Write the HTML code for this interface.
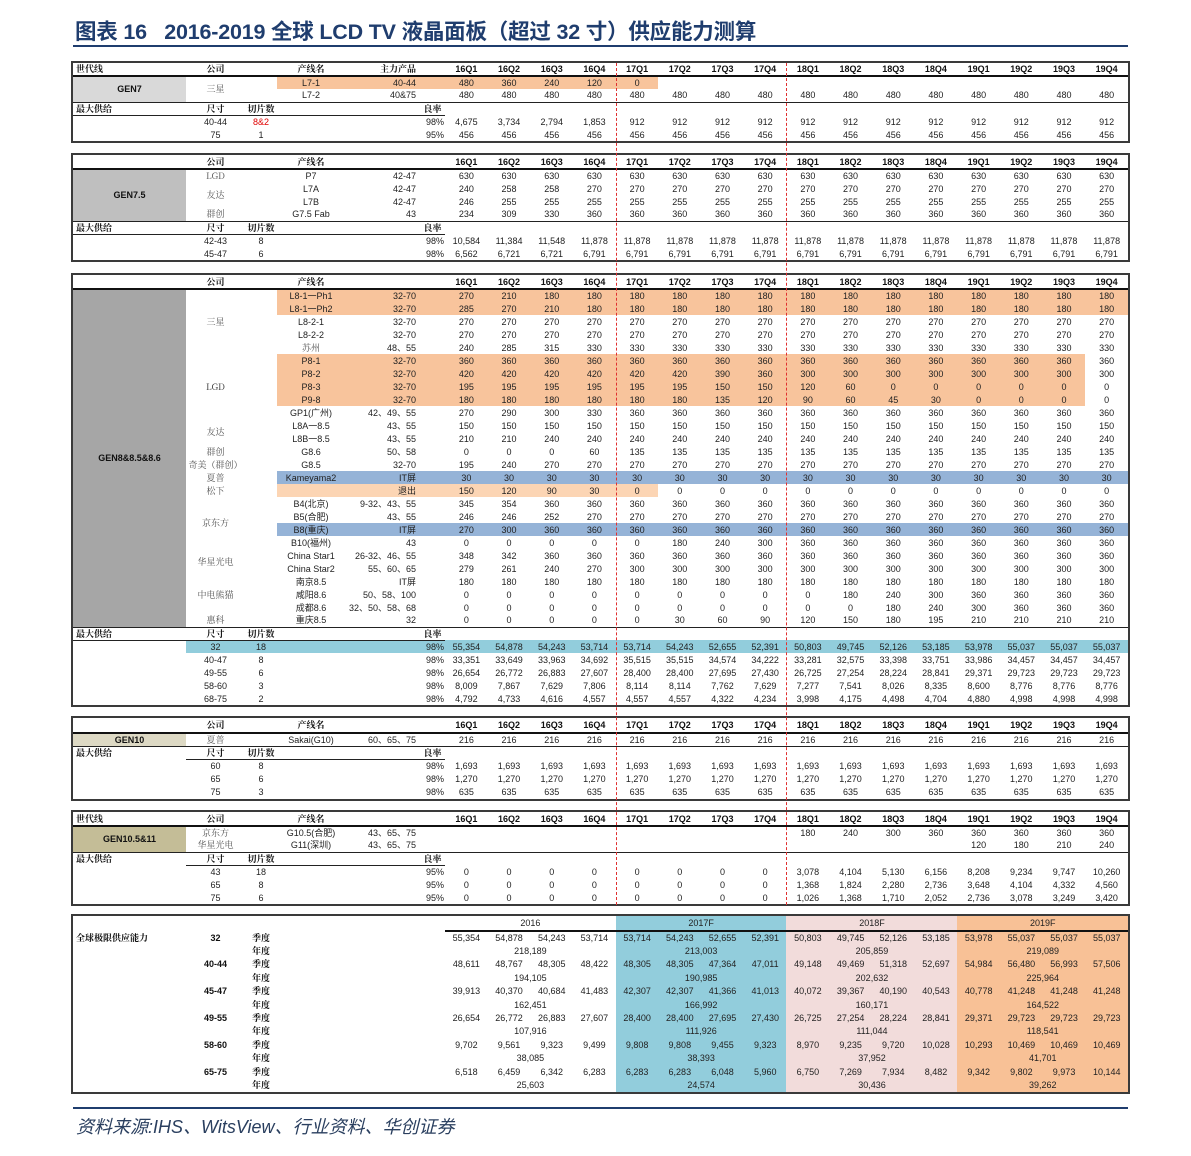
<!DOCTYPE html>
<html><head><meta charset="utf-8">
<style>
*{margin:0;padding:0;box-sizing:border-box}
body{width:1191px;height:1156px;background:#fff;position:relative;overflow:hidden;font-family:"Liberation Sans","Noto Sans CJK SC",sans-serif;color:#222}
.title{position:absolute;left:75px;top:15px;font-size:21.5px;font-weight:bold;color:#1f3d6e;white-space:nowrap;letter-spacing:-0.2px}
.tline{position:absolute;left:73px;top:45px;width:1055px;height:2px;background:#1f3d6e}
.fline{position:absolute;left:73px;top:1107px;width:1055px;height:2px;background:#1f3d6e}
.foot{position:absolute;left:76px;top:1113px;font-size:18px;font-style:italic;color:#2a3f5f;white-space:nowrap}
.bg{position:absolute}
.wrap{position:absolute;left:71px;width:1059px;border:2px solid #3a3a3a}
table{border-collapse:collapse;table-layout:fixed;width:1055px}
td{padding:0;height:13px;line-height:12px;font-size:9px;text-align:center;white-space:nowrap;overflow:visible;vertical-align:middle}
.l{text-align:left;padding-left:3px}
.r{text-align:right;padding-right:4px}
.r1{text-align:right;padding-right:1px}
.cj{font-family:"Noto Serif CJK SC","Liberation Serif",serif;color:#555}
.cb{font-family:"Noto Serif CJK SC","Liberation Serif",serif;font-weight:bold;color:#111}
.b{font-weight:bold;color:#111}
.hd td{border-bottom:2px solid #111;font-weight:bold;color:#111}
.mx td{border-top:1px solid #222}
.mx td.u{border-bottom:1px solid #222}
.dash{position:absolute;top:63px;height:842px;width:0;border-left:1px dashed #e03030}
.g7{background:#d9d9d9}.g75{background:#bfbfbf}.g8{background:#a6a6a6}.g10{background:#ddd9c4}.g105{background:#c4bd97}
.red{color:#e00000}
.s td{height:13.4px}
.th td.yr{border-bottom:2px solid #111;height:15px}
.ind{text-align:left;padding-left:7px}
</style></head><body>
<div class="title">图表 16&nbsp;&nbsp;&nbsp;2016-2019 全球 LCD TV 液晶面板（超过 32 寸）供应能力测算</div>
<div class="tline"></div>

<div class="bg" style="left:277px;top:76px;width:381px;height:13px;background:#f8c49c"></div>
<div class="bg" style="left:277px;top:289px;width:851px;height:26px;background:#f8c49c"></div>
<div class="bg" style="left:277px;top:354px;width:808px;height:52px;background:#f8c49c"></div>
<div class="bg" style="left:277px;top:471px;width:851px;height:13px;background:#95b3d7"></div>
<div class="bg" style="left:277px;top:484px;width:381px;height:13px;background:#fcd5b4"></div>
<div class="bg" style="left:277px;top:523px;width:851px;height:13px;background:#95b3d7"></div>
<div class="bg" style="left:186px;top:640px;width:942px;height:13px;background:#92cddc"></div>
<div class="bg" style="left:616px;top:916px;width:170px;height:177px;background:#92cddc"></div>
<div class="bg" style="left:786px;top:916px;width:171px;height:177px;background:#f2dcdb"></div>
<div class="bg" style="left:957px;top:916px;width:171px;height:177px;background:#f8c196"></div>

<div class="wrap" style="top:61px">
<table>
<colgroup><col style="width:113px"><col style="width:59px"><col style="width:32px"><col style="width:68px"><col style="width:75px"><col style="width:25px"><col span="16" style="width:42.6875px"></colgroup>
<tr class="hd"><td class="l cb">世代线<td class="cb">公司<td><td class="cb">产线名<td class="r cb">主力产品<td><td>16Q1<td>16Q2<td>16Q3<td>16Q4<td>17Q1<td>17Q2<td>17Q3<td>17Q4<td>18Q1<td>18Q2<td>18Q3<td>18Q4<td>19Q1<td>19Q2<td>19Q3<td>19Q4</tr>
<tr><td rowspan="2" class="g7 b">GEN7<td rowspan="2" class="cj">三星<td><td>L7-1<td class="r">40-44<td><td>480<td>360<td>240<td>120<td>0<td><td><td><td><td><td><td><td><td><td><td></tr>
<tr><td><td>L7-2<td class="r">40&amp;75<td><td>480<td>480<td>480<td>480<td>480<td>480<td>480<td>480<td>480<td>480<td>480<td>480<td>480<td>480<td>480<td>480</tr>
<tr class="mx"><td class="l cb u">最大供给<td class="cb u">尺寸<td class="cb u">切片数<td class="u"><td class="u"><td class="cb u">良率<td><td><td><td><td><td><td><td><td><td><td><td><td><td><td><td></tr>
<tr><td><td>40-44<td class="red">8&amp;2<td><td><td class="r1">98%<td>4,675<td>3,734<td>2,794<td>1,853<td>912<td>912<td>912<td>912<td>912<td>912<td>912<td>912<td>912<td>912<td>912<td>912</tr>
<tr><td><td>75<td>1<td><td><td class="r1">95%<td>456<td>456<td>456<td>456<td>456<td>456<td>456<td>456<td>456<td>456<td>456<td>456<td>456<td>456<td>456<td>456</tr>
</table></div>

<div class="wrap" style="top:153px">
<table>
<colgroup><col style="width:113px"><col style="width:59px"><col style="width:32px"><col style="width:68px"><col style="width:75px"><col style="width:25px"><col span="16" style="width:42.6875px"></colgroup>
<tr class="hd"><td style="height:14px"><td class="cb">公司<td><td class="cb">产线名<td><td><td>16Q1<td>16Q2<td>16Q3<td>16Q4<td>17Q1<td>17Q2<td>17Q3<td>17Q4<td>18Q1<td>18Q2<td>18Q3<td>18Q4<td>19Q1<td>19Q2<td>19Q3<td>19Q4</tr>
<tr><td rowspan="4" class="g75 b">GEN7.5<td class="cj">LGD<td><td>P7<td class="r">42-47<td><td>630<td>630<td>630<td>630<td>630<td>630<td>630<td>630<td>630<td>630<td>630<td>630<td>630<td>630<td>630<td>630</tr>
<tr><td rowspan="2" class="cj">友达<td><td>L7A<td class="r">42-47<td><td>240<td>258<td>258<td>270<td>270<td>270<td>270<td>270<td>270<td>270<td>270<td>270<td>270<td>270<td>270<td>270</tr>
<tr><td><td>L7B<td class="r">42-47<td><td>246<td>255<td>255<td>255<td>255<td>255<td>255<td>255<td>255<td>255<td>255<td>255<td>255<td>255<td>255<td>255</tr>
<tr><td class="cj">群创<td><td>G7.5 Fab<td class="r">43<td><td>234<td>309<td>330<td>360<td>360<td>360<td>360<td>360<td>360<td>360<td>360<td>360<td>360<td>360<td>360<td>360</tr>
<tr class="mx"><td class="l cb u">最大供给<td class="cb u">尺寸<td class="cb u">切片数<td class="u"><td class="u"><td class="cb u">良率<td><td><td><td><td><td><td><td><td><td><td><td><td><td><td><td></tr>
<tr><td><td>42-43<td>8<td><td><td class="r1">98%<td>10,584<td>11,384<td>11,548<td>11,878<td>11,878<td>11,878<td>11,878<td>11,878<td>11,878<td>11,878<td>11,878<td>11,878<td>11,878<td>11,878<td>11,878<td>11,878</tr>
<tr><td><td>45-47<td>6<td><td><td class="r1">98%<td>6,562<td>6,721<td>6,721<td>6,791<td>6,791<td>6,791<td>6,791<td>6,791<td>6,791<td>6,791<td>6,791<td>6,791<td>6,791<td>6,791<td>6,791<td>6,791</tr>
</table></div>

<div class="wrap" style="top:273px">
<table>
<colgroup><col style="width:113px"><col style="width:59px"><col style="width:32px"><col style="width:68px"><col style="width:75px"><col style="width:25px"><col span="16" style="width:42.6875px"></colgroup>
<tr class="hd"><td style="height:14px"><td class="cb">公司<td><td class="cb">产线名<td><td><td>16Q1<td>16Q2<td>16Q3<td>16Q4<td>17Q1<td>17Q2<td>17Q3<td>17Q4<td>18Q1<td>18Q2<td>18Q3<td>18Q4<td>19Q1<td>19Q2<td>19Q3<td>19Q4</tr>
<tr><td rowspan="26" class="g8 b">GEN8&amp;8.5&amp;8.6<td rowspan="5" class="cj">三星<td><td>L8-1一Ph1<td class="r">32-70<td><td>270<td>210<td>180<td>180<td>180<td>180<td>180<td>180<td>180<td>180<td>180<td>180<td>180<td>180<td>180<td>180</tr>
<tr><td><td>L8-1一Ph2<td class="r">32-70<td><td>285<td>270<td>210<td>180<td>180<td>180<td>180<td>180<td>180<td>180<td>180<td>180<td>180<td>180<td>180<td>180</tr>
<tr><td><td>L8-2-1<td class="r">32-70<td><td>270<td>270<td>270<td>270<td>270<td>270<td>270<td>270<td>270<td>270<td>270<td>270<td>270<td>270<td>270<td>270</tr>
<tr><td><td>L8-2-2<td class="r">32-70<td><td>270<td>270<td>270<td>270<td>270<td>270<td>270<td>270<td>270<td>270<td>270<td>270<td>270<td>270<td>270<td>270</tr>
<tr><td><td class="cj">苏州<td class="r">48、55<td><td>240<td>285<td>315<td>330<td>330<td>330<td>330<td>330<td>330<td>330<td>330<td>330<td>330<td>330<td>330<td>330</tr>
<tr><td rowspan="5" class="cj" style="color:#333">LGD<td><td>P8-1<td class="r">32-70<td><td>360<td>360<td>360<td>360<td>360<td>360<td>360<td>360<td>360<td>360<td>360<td>360<td>360<td>360<td>360<td>360</tr>
<tr><td><td>P8-2<td class="r">32-70<td><td>420<td>420<td>420<td>420<td>420<td>420<td>390<td>360<td>300<td>300<td>300<td>300<td>300<td>300<td>300<td>300</tr>
<tr><td><td>P8-3<td class="r">32-70<td><td>195<td>195<td>195<td>195<td>195<td>195<td>150<td>150<td>120<td>60<td>0<td>0<td>0<td>0<td>0<td>0</tr>
<tr><td><td>P9-8<td class="r">32-70<td><td>180<td>180<td>180<td>180<td>180<td>180<td>135<td>120<td>90<td>60<td>45<td>30<td>0<td>0<td>0<td>0</tr>
<tr><td><td>GP1(广州)<td class="r">42、49、55<td><td>270<td>290<td>300<td>330<td>360<td>360<td>360<td>360<td>360<td>360<td>360<td>360<td>360<td>360<td>360<td>360</tr>
<tr><td rowspan="2" class="cj">友达<td><td>L8A一8.5<td class="r">43、55<td><td>150<td>150<td>150<td>150<td>150<td>150<td>150<td>150<td>150<td>150<td>150<td>150<td>150<td>150<td>150<td>150</tr>
<tr><td><td>L8B一8.5<td class="r">43、55<td><td>210<td>210<td>240<td>240<td>240<td>240<td>240<td>240<td>240<td>240<td>240<td>240<td>240<td>240<td>240<td>240</tr>
<tr><td class="cj">群创<td><td>G8.6<td class="r">50、58<td><td>0<td>0<td>0<td>60<td>135<td>135<td>135<td>135<td>135<td>135<td>135<td>135<td>135<td>135<td>135<td>135</tr>
<tr><td class="cj">奇美（群创）<td><td>G8.5<td class="r">32-70<td><td>195<td>240<td>270<td>270<td>270<td>270<td>270<td>270<td>270<td>270<td>270<td>270<td>270<td>270<td>270<td>270</tr>
<tr><td class="cj">夏普<td><td>Kameyama2<td class="r">IT屏<td><td>30<td>30<td>30<td>30<td>30<td>30<td>30<td>30<td>30<td>30<td>30<td>30<td>30<td>30<td>30<td>30</tr>
<tr><td class="cj">松下<td><td><td class="r">退出<td><td>150<td>120<td>90<td>30<td>0<td>0<td>0<td>0<td>0<td>0<td>0<td>0<td>0<td>0<td>0<td>0</tr>
<tr><td rowspan="4" class="cj">京东方<td><td>B4(北京)<td class="r">9-32、43、55<td><td>345<td>354<td>360<td>360<td>360<td>360<td>360<td>360<td>360<td>360<td>360<td>360<td>360<td>360<td>360<td>360</tr>
<tr><td><td>B5(合肥)<td class="r">43、55<td><td>246<td>246<td>252<td>270<td>270<td>270<td>270<td>270<td>270<td>270<td>270<td>270<td>270<td>270<td>270<td>270</tr>
<tr><td><td>B8(重庆)<td class="r">IT屏<td><td>270<td>300<td>360<td>360<td>360<td>360<td>360<td>360<td>360<td>360<td>360<td>360<td>360<td>360<td>360<td>360</tr>
<tr><td><td>B10(福州)<td class="r">43<td><td>0<td>0<td>0<td>0<td>0<td>180<td>240<td>300<td>360<td>360<td>360<td>360<td>360<td>360<td>360<td>360</tr>
<tr><td rowspan="2" class="cj">华星光电<td><td>China Star1<td class="r">26-32、46、55<td><td>348<td>342<td>360<td>360<td>360<td>360<td>360<td>360<td>360<td>360<td>360<td>360<td>360<td>360<td>360<td>360</tr>
<tr><td><td>China Star2<td class="r">55、60、65<td><td>279<td>261<td>240<td>270<td>300<td>300<td>300<td>300<td>300<td>300<td>300<td>300<td>300<td>300<td>300<td>300</tr>
<tr><td rowspan="3" class="cj">中电熊猫<td><td>南京8.5<td class="r">IT屏<td><td>180<td>180<td>180<td>180<td>180<td>180<td>180<td>180<td>180<td>180<td>180<td>180<td>180<td>180<td>180<td>180</tr>
<tr><td><td>咸阳8.6<td class="r">50、58、100<td><td>0<td>0<td>0<td>0<td>0<td>0<td>0<td>0<td>0<td>180<td>240<td>300<td>360<td>360<td>360<td>360</tr>
<tr><td><td>成都8.6<td class="r">32、50、58、68<td><td>0<td>0<td>0<td>0<td>0<td>0<td>0<td>0<td>0<td>0<td>180<td>240<td>300<td>360<td>360<td>360</tr>
<tr><td class="cj">惠科<td><td>重庆8.5<td class="r">32<td><td>0<td>0<td>0<td>0<td>0<td>30<td>60<td>90<td>120<td>150<td>180<td>195<td>210<td>210<td>210<td>210</tr>
<tr class="mx"><td class="l cb u">最大供给<td class="cb u">尺寸<td class="cb u">切片数<td class="u"><td class="u"><td class="cb u">良率<td><td><td><td><td><td><td><td><td><td><td><td><td><td><td><td></tr>
<tr><td><td>32<td>18<td><td><td class="r1">98%<td>55,354<td>54,878<td>54,243<td>53,714<td>53,714<td>54,243<td>52,655<td>52,391<td>50,803<td>49,745<td>52,126<td>53,185<td>53,978<td>55,037<td>55,037<td>55,037</tr>
<tr><td><td>40-47<td>8<td><td><td class="r1">98%<td>33,351<td>33,649<td>33,963<td>34,692<td>35,515<td>35,515<td>34,574<td>34,222<td>33,281<td>32,575<td>33,398<td>33,751<td>33,986<td>34,457<td>34,457<td>34,457</tr>
<tr><td><td>49-55<td>6<td><td><td class="r1">98%<td>26,654<td>26,772<td>26,883<td>27,607<td>28,400<td>28,400<td>27,695<td>27,430<td>26,725<td>27,254<td>28,224<td>28,841<td>29,371<td>29,723<td>29,723<td>29,723</tr>
<tr><td><td>58-60<td>3<td><td><td class="r1">98%<td>8,009<td>7,867<td>7,629<td>7,806<td>8,114<td>8,114<td>7,762<td>7,629<td>7,277<td>7,541<td>8,026<td>8,335<td>8,600<td>8,776<td>8,776<td>8,776</tr>
<tr><td><td>68-75<td>2<td><td><td class="r1">98%<td>4,792<td>4,733<td>4,616<td>4,557<td>4,557<td>4,557<td>4,322<td>4,234<td>3,998<td>4,175<td>4,498<td>4,704<td>4,880<td>4,998<td>4,998<td>4,998</tr>
</table></div>

<div class="wrap" style="top:716px">
<table>
<colgroup><col style="width:113px"><col style="width:59px"><col style="width:32px"><col style="width:68px"><col style="width:75px"><col style="width:25px"><col span="16" style="width:42.6875px"></colgroup>
<tr class="hd"><td style="height:15px"><td class="cb">公司<td><td class="cb">产线名<td><td><td>16Q1<td>16Q2<td>16Q3<td>16Q4<td>17Q1<td>17Q2<td>17Q3<td>17Q4<td>18Q1<td>18Q2<td>18Q3<td>18Q4<td>19Q1<td>19Q2<td>19Q3<td>19Q4</tr>
<tr><td class="g10 b">GEN10<td class="cj">夏普<td><td>Sakai(G10)<td class="r">60、65、75<td><td>216<td>216<td>216<td>216<td>216<td>216<td>216<td>216<td>216<td>216<td>216<td>216<td>216<td>216<td>216<td>216</tr>
<tr class="mx"><td class="l cb">最大供给<td class="cb u">尺寸<td class="cb u">切片数<td class="u"><td class="u"><td class="cb u">良率<td><td><td><td><td><td><td><td><td><td><td><td><td><td><td><td></tr>
<tr><td><td>60<td>8<td><td><td class="r1">98%<td>1,693<td>1,693<td>1,693<td>1,693<td>1,693<td>1,693<td>1,693<td>1,693<td>1,693<td>1,693<td>1,693<td>1,693<td>1,693<td>1,693<td>1,693<td>1,693</tr>
<tr><td><td>65<td>6<td><td><td class="r1">98%<td>1,270<td>1,270<td>1,270<td>1,270<td>1,270<td>1,270<td>1,270<td>1,270<td>1,270<td>1,270<td>1,270<td>1,270<td>1,270<td>1,270<td>1,270<td>1,270</tr>
<tr><td><td>75<td>3<td><td><td class="r1">98%<td>635<td>635<td>635<td>635<td>635<td>635<td>635<td>635<td>635<td>635<td>635<td>635<td>635<td>635<td>635<td>635</tr>
</table></div>

<div class="wrap" style="top:810px">
<table>
<colgroup><col style="width:113px"><col style="width:59px"><col style="width:32px"><col style="width:68px"><col style="width:75px"><col style="width:25px"><col span="16" style="width:42.6875px"></colgroup>
<tr class="hd"><td class="l cb" style="height:14px">世代线<td class="cb">公司<td><td class="cb">产线名<td><td><td>16Q1<td>16Q2<td>16Q3<td>16Q4<td>17Q1<td>17Q2<td>17Q3<td>17Q4<td>18Q1<td>18Q2<td>18Q3<td>18Q4<td>19Q1<td>19Q2<td>19Q3<td>19Q4</tr>
<tr><td rowspan="2" class="g105 b">GEN10.5&amp;11<td class="cj">京东方<td><td>G10.5(合肥)<td class="r">43、65、75<td><td><td><td><td><td><td><td><td><td>180<td>240<td>300<td>360<td>360<td>360<td>360<td>360</tr>
<tr><td class="cj">华星光电<td><td>G11(深圳)<td class="r">43、65、75<td><td><td><td><td><td><td><td><td><td><td><td><td><td>120<td>180<td>210<td>240</tr>
<tr class="mx"><td class="l cb">最大供给<td class="cb u">尺寸<td class="cb u">切片数<td class="u"><td class="u"><td class="cb u">良率<td><td><td><td><td><td><td><td><td><td><td><td><td><td><td><td></tr>
<tr><td><td>43<td>18<td><td><td class="r1">95%<td>0<td>0<td>0<td>0<td>0<td>0<td>0<td>0<td>3,078<td>4,104<td>5,130<td>6,156<td>8,208<td>9,234<td>9,747<td>10,260</tr>
<tr><td><td>65<td>8<td><td><td class="r1">95%<td>0<td>0<td>0<td>0<td>0<td>0<td>0<td>0<td>1,368<td>1,824<td>2,280<td>2,736<td>3,648<td>4,104<td>4,332<td>4,560</tr>
<tr><td><td>75<td>6<td><td><td class="r1">95%<td>0<td>0<td>0<td>0<td>0<td>0<td>0<td>0<td>1,026<td>1,368<td>1,710<td>2,052<td>2,736<td>3,078<td>3,249<td>3,420</tr>
</table></div>

<div class="dash" style="left:616px"></div>
<div class="dash" style="left:786px"></div>

<div class="wrap" style="top:914px">
<table class="s">
<colgroup><col style="width:113px"><col style="width:59px"><col style="width:32px"><col style="width:68px"><col style="width:75px"><col style="width:25px"><col span="16" style="width:42.6875px"></colgroup>
<tr class="th"><td style="height:15px"><td><td><td><td><td><td colspan="4" class="yr">2016<td colspan="4" class="yr">2017F<td colspan="4" class="yr">2018F<td colspan="4" class="yr">2019F</tr>
<tr><td class="l cb">全球极限供应能力<td class="b">32<td class="cb ind">季度<td><td><td><td>55,354<td>54,878<td>54,243<td>53,714<td>53,714<td>54,243<td>52,655<td>52,391<td>50,803<td>49,745<td>52,126<td>53,185<td>53,978<td>55,037<td>55,037<td>55,037</tr>
<tr><td><td><td class="cb ind">年度<td><td><td><td colspan="4">218,189<td colspan="4">213,003<td colspan="4">205,859<td colspan="4">219,089</tr>
<tr><td><td class="b">40-44<td class="cb ind">季度<td><td><td><td>48,611<td>48,767<td>48,305<td>48,422<td>48,305<td>48,305<td>47,364<td>47,011<td>49,148<td>49,469<td>51,318<td>52,697<td>54,984<td>56,480<td>56,993<td>57,506</tr>
<tr><td><td><td class="cb ind">年度<td><td><td><td colspan="4">194,105<td colspan="4">190,985<td colspan="4">202,632<td colspan="4">225,964</tr>
<tr><td><td class="b">45-47<td class="cb ind">季度<td><td><td><td>39,913<td>40,370<td>40,684<td>41,483<td>42,307<td>42,307<td>41,366<td>41,013<td>40,072<td>39,367<td>40,190<td>40,543<td>40,778<td>41,248<td>41,248<td>41,248</tr>
<tr><td><td><td class="cb ind">年度<td><td><td><td colspan="4">162,451<td colspan="4">166,992<td colspan="4">160,171<td colspan="4">164,522</tr>
<tr><td><td class="b">49-55<td class="cb ind">季度<td><td><td><td>26,654<td>26,772<td>26,883<td>27,607<td>28,400<td>28,400<td>27,695<td>27,430<td>26,725<td>27,254<td>28,224<td>28,841<td>29,371<td>29,723<td>29,723<td>29,723</tr>
<tr><td><td><td class="cb ind">年度<td><td><td><td colspan="4">107,916<td colspan="4">111,926<td colspan="4">111,044<td colspan="4">118,541</tr>
<tr><td><td class="b">58-60<td class="cb ind">季度<td><td><td><td>9,702<td>9,561<td>9,323<td>9,499<td>9,808<td>9,808<td>9,455<td>9,323<td>8,970<td>9,235<td>9,720<td>10,028<td>10,293<td>10,469<td>10,469<td>10,469</tr>
<tr><td><td><td class="cb ind">年度<td><td><td><td colspan="4">38,085<td colspan="4">38,393<td colspan="4">37,952<td colspan="4">41,701</tr>
<tr><td><td class="b">65-75<td class="cb ind">季度<td><td><td><td>6,518<td>6,459<td>6,342<td>6,283<td>6,283<td>6,283<td>6,048<td>5,960<td>6,750<td>7,269<td>7,934<td>8,482<td>9,342<td>9,802<td>9,973<td>10,144</tr>
<tr><td><td><td class="cb ind">年度<td><td><td><td colspan="4">25,603<td colspan="4">24,574<td colspan="4">30,436<td colspan="4">39,262</tr>
</table></div>

<div class="fline"></div>
<div class="foot">资料来源:IHS、WitsView、行业资料、华创证券</div>
</body></html>
